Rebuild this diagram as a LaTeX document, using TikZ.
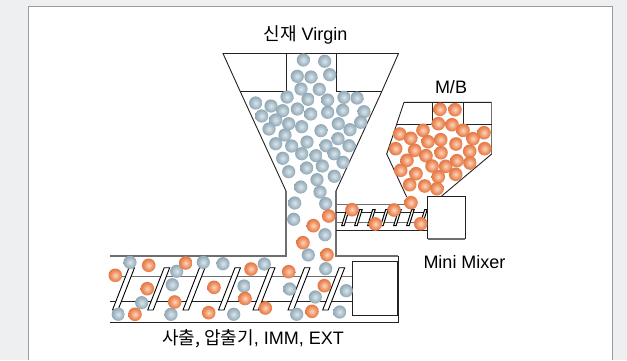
\documentclass[tikz,border=0pt]{standalone}
\usepackage{fontspec}
\setmainfont{Liberation Sans}
\newfontfamily\krfont{Noto Sans CJK KR}
\definecolor{pagebg}{HTML}{EEEFF1}
\definecolor{edgegray}{HTML}{9A9C9F}
\definecolor{lineg}{HTML}{6E6E6E}
\definecolor{lined}{HTML}{222222}
\definecolor{gb0}{HTML}{DCE6EB}\definecolor{gb1}{HTML}{A3B8C4}\definecolor{gb2}{HTML}{7690A0}
\definecolor{ob0}{HTML}{FBD6BD}\definecolor{ob1}{HTML}{EC8A5A}\definecolor{ob2}{HTML}{D95F28}
\pgfdeclareradialshading{gball}{\pgfpoint{0bp}{0bp}}{color(0bp)=(gb0); color(18bp)=(gb1); color(36bp)=(gb2); color(50bp)=(gb2)}
\pgfdeclareradialshading{oball}{\pgfpoint{0bp}{0bp}}{color(0bp)=(ob0); color(18bp)=(ob1); color(36bp)=(ob2); color(50bp)=(ob2)}
\tikzset{
 thinl/.style={draw=lined,line width=0.9pt},
 grayl/.style={draw=lineg,line width=1.3pt},
 flight/.style={draw=black,fill=white,line width=0.9pt},
 smallflight/.style={draw=black,fill=white,line width=1pt},
 labeltext/.style={inner sep=0pt,text=black,font=\fontsize{18}{20}\selectfont},
}
\newcommand{\grayballs}[1]{\foreach \px/\py in {#1}{\shade[shading=gball] (\px,\py) circle (6.6);}}
\newcommand{\orangeballs}[1]{\foreach \px/\py in {#1}{\shade[shading=oball] (\px,\py) circle (6.8);}}
\begin{document}
\begin{tikzpicture}[x=1pt,y=-1pt]
\useasboundingbox (0,0) rectangle (627,360);
\fill[pagebg] (0,0) rectangle (627,360);
\fill[white] (28.5,6.5) rectangle (612.5,360);
\draw[edgegray,line width=1.2pt] (28.5,360) -- (28.5,6.5) -- (612.5,6.5) -- (612.5,360);
% main hopper
\draw[thinl] (286,191) -- (240,91) -- (223,53.5) -- (398.5,53.5) -- (382,91) -- (336,191);
\draw[thinl] (240,91) -- (286,91) -- (286,53.5);
\draw[thinl] (382,91) -- (336,91) -- (336,53.5);
\draw[grayl] (286,191) -- (286,256) -- (110,256);
\draw[grayl] (336,191) -- (336,256) -- (398,256);
% barrel
\draw[thinl] (398,256) -- (398,322) -- (110,322);
\draw[lineg,line width=1.1pt] (110,276.7) -- (352,276.7);
\draw[lined,line width=0.9pt] (110,301) -- (352,301);
\foreach \fx in {112.5,147.7,183,218.5,253,288,322.7}{
  \draw[flight] (\fx,310) -- (\fx+16.5,267.7) -- (\fx+22,267.7) -- (\fx+5.5,310) -- cycle;
}
\draw[lined,line width=1.3pt] (352.3,261.7) rectangle (397.5,315.7);
% side feeder
\draw[lineg,line width=1pt] (336,204) -- (405,204);
\draw[lined,line width=1pt] (336,230) -- (428,230);
\draw[lined,line width=1pt] (336,212.7) -- (428,212.7);
\draw[lineg,line width=1pt] (336,222) -- (428,222);
\foreach \fx in {341.7,354.7,367.7,380.7,393.7,406.7,419.7}{
  \draw[smallflight] (\fx,225.5) -- (\fx+5,209.5) -- (\fx+7.5,209.5) -- (\fx+2.5,225.5) -- cycle;
}
% MB hopper
\draw[thinl] (406.7,197) -- (386.7,154) -- (404,102.3) -- (491.7,102.3);
\draw[grayl] (491.7,102.3) -- (491.7,154);
\draw[thinl] (491.7,154) -- (441.7,196);
\draw[thinl] (396.7,124.3) -- (432.3,124.3) -- (432.3,102.3);
\draw[thinl] (491.7,124.3) -- (463.3,124.3) -- (463.3,102.3);
% mini mixer box
\draw[lined,line width=0.9pt] (427.7,239) -- (427.7,196) -- (465.3,196) -- (465.3,239);
\draw[lineg,line width=1.4pt] (427.7,239) -- (465.3,239);
% balls
\grayballs{303.3/60,324.7/61.3,297.3/76.3,311/77,329.7/74.7,301/89,319.3/89.3,287/97,308/99.3,327.7/100,344/97.3,357/98,255.7/103,271/106,282.7/110.7,297.3/109,310.7/114,327.7/112.3,342.7/110.3,364/111.7,261.7/116,275.7/120,288.7/123.7,301.7/126.7,338.3/123.7,360.7/122.3,269/129,321/130.7,350/129.7,285/135,275.7/143.7,291.7/146,307/142,326/145.7,338/138.7,349/145.7,301.7/153.7,316/155.7,334/153.7,282.7/158.3,343/162.3,306.7/168,322.3/166,288.7/171.7,334.3/176.3,317/179.7,300.7/187,320/192,294.7/203,325.7/203.7,293.7/219.3,325/234.7,308.3/255}
\grayballs{264.3/264,325.7/268.7,244/286,289.7/289,346.3/290.7,315.3/297,296.7/314.3,339.7/312,130/262.3,203.3/262.3,223/263.7,176.7/271.3,172.3/284.7,141.7/302.7,118.3/314.3,171/314.3,233.7/314.3}
\orangeballs{328.7/216,313.3/225.7,303/242.7,327/254.7,251/269,288.7/271.7,324.3/285.7,245/298.5,265.3/308,312/311.3,185.7/263,148.7/265.3,115.3/275.3,147.3/288.7,214/287.3,174.7/302,135/314.3,208.7/312.7}
\orangeballs{440/109.3,455/109.7,438.3/123.7,452/124.7,463/130.3,423/130.3,484/132.7,399.7/134,410.7/138.3,473/138.7,428/141.7,440.7/139.7,456/144,484.7/148.7,395.7/148.7,414.7/150.3,469.7/151.3,441/152.7,426/155.7,407/160.3,457/160.7,470/163,432/166,445.7/166.3,400.7/170.3,416/173.7,455.7/174.3,438.3/176.7,409.7/184.7,424.7/186,437/188.7,411/202.7,352/209.7,394/210,375.3/224,420.7/223.7}
% labels
\node[labeltext] (virgin) at (305.5,35) {{\krfont 신재} Virgin};
\node[labeltext] (mb) at (451,87) {M/B};
\node[labeltext] (mixer) at (464.5,262) {Mini Mixer};
\node[labeltext] (imm) at (253,339) {{\krfont 사출, 압출기}, IMM, EXT};
\end{tikzpicture}
\end{document}
